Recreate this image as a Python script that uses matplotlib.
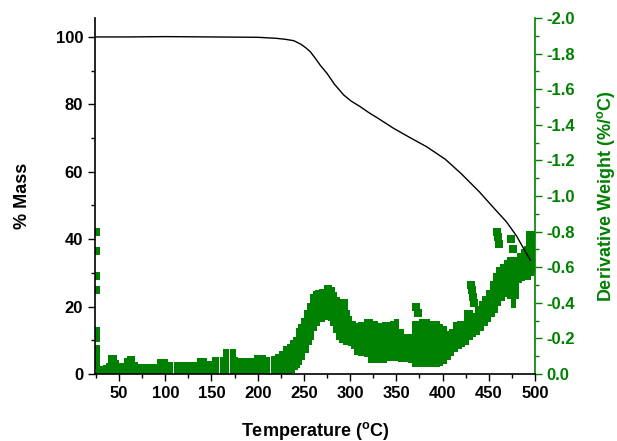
import matplotlib
matplotlib.use("Agg")
import matplotlib.pyplot as plt
import numpy as np
from matplotlib.ticker import MultipleLocator

plt.rcParams['font.family'] = 'Liberation Sans'
plt.rcParams['font.weight'] = 'bold'
plt.rcParams['axes.labelweight'] = 'bold'
plt.rcParams['mathtext.fontset'] = 'custom'
plt.rcParams['mathtext.rm'] = 'Liberation Sans:bold'
plt.rcParams['mathtext.it'] = 'Liberation Sans:bold'
plt.rcParams['mathtext.bf'] = 'Liberation Sans:bold'

GREEN = '#008000'

# TGA curve (% mass vs temperature)
mass_temp = [25, 60, 100, 150, 200, 220, 230, 239, 247, 252, 257, 262, 268, 275,
             283, 293, 301, 311, 320, 330, 347, 365, 383, 403, 420, 440, 455,
             469, 480, 487, 495]
mass_pct = [100.0, 100.0, 100.1, 100.0, 99.9, 99.6, 99.3, 98.9, 97.8, 96.8, 95.6,
            93.8, 91.5, 89.2, 86.0, 82.8, 81.0, 79.3, 77.6, 75.9, 72.9, 70.1,
            67.4, 63.7, 59.5, 54.0, 49.4, 45.2, 41.0, 37.6, 33.8]

# DTG band: temperature, lower and upper edge of the scattered points
dtg_temp = [27, 30, 35, 38, 41, 45, 48, 51, 55, 58, 61, 65, 68, 72, 80, 90, 94,
            100, 104, 115, 125, 134, 137, 142, 146, 151, 154, 163, 166, 173, 176,
            182, 190, 196, 199, 206, 210, 218, 222, 226, 230, 234, 238, 241, 244,
            246, 249, 253, 256, 259, 262, 265, 270, 275, 278, 281, 284, 287, 291,
            295, 298, 300, 304, 307, 312, 318, 322, 327, 332, 337, 341, 346, 350,
            355, 360, 366, 369, 373, 378, 383, 388, 394, 398, 402, 406, 410, 414,
            418, 422, 426, 430, 434, 438, 442, 446, 450, 454, 457, 461, 465, 469,
            473, 477, 480, 483, 487, 490, 493, 497, 499]
dtg_low = [0.0, 0.0, 0.0, 0.0, 0.0, 0.0, 0.0, 0.0, 0.0, 0.0, 0.0, 0.0, 0.0, 0.0,
           0.0, 0.0, 0.0, 0.0, 0.0, 0.0, 0.0, 0.0, 0.0, 0.0, 0.0, 0.0, 0.0, 0.0,
           0.0, 0.0, 0.0, 0.0, 0.0, 0.0, 0.0, 0.0, 0.0, 0.0, 0.0, 0.0, 0.0, 0.0,
           -0.004, -0.02, -0.035, -0.05, -0.08, -0.117, -0.16, -0.19, -0.24,
           -0.27, -0.29, -0.306, -0.30, -0.27, -0.23, -0.19, -0.175, -0.164,
           -0.16, -0.155, -0.14, -0.108, -0.10, -0.097, -0.06, -0.06, -0.06,
           -0.06, -0.075, -0.075, -0.075, -0.065, -0.065, -0.06, -0.04, -0.04,
           -0.04, -0.04, -0.04, -0.04, -0.045, -0.055, -0.08, -0.10, -0.125,
           -0.14, -0.15, -0.164, -0.19, -0.21, -0.22, -0.24, -0.27, -0.29, -0.32,
           -0.344, -0.38, -0.41, -0.43, -0.42, -0.37, -0.42, -0.51, -0.52, -0.53,
           -0.53, -0.55, -0.56]
dtg_high = [-0.045, -0.045, -0.05, -0.06, -0.108, -0.108, -0.08, -0.06, -0.06,
            -0.09, -0.10, -0.10, -0.07, -0.055, -0.057, -0.057, -0.083, -0.083,
            -0.068, -0.07, -0.068, -0.07, -0.09, -0.09, -0.075, -0.075, -0.098,
            -0.098, -0.14, -0.14, -0.095, -0.09, -0.09, -0.09, -0.105, -0.105,
            -0.098, -0.10, -0.113, -0.13, -0.155, -0.17, -0.19, -0.21, -0.26,
            -0.28, -0.315, -0.36, -0.40, -0.45, -0.466, -0.47, -0.476, -0.50,
            -0.50, -0.49, -0.46, -0.43, -0.42, -0.42, -0.36, -0.325, -0.30,
            -0.287, -0.29, -0.31, -0.31, -0.30, -0.287, -0.29, -0.29, -0.30,
            -0.31, -0.25, -0.226, -0.226, -0.30, -0.30, -0.31, -0.31, -0.30,
            -0.30, -0.28, -0.27, -0.24, -0.25, -0.29, -0.296, -0.30, -0.36,
            -0.36, -0.34, -0.38, -0.41, -0.44, -0.47, -0.52, -0.57, -0.60, -0.62,
            -0.64, -0.66, -0.66, -0.66, -0.68, -0.70, -0.72, -0.806, -0.806,
            -0.806]

# isolated points outside the band
out_temp = [25.5, 25.5, 25.5, 25.5, 25.5, 25.5, 25.5, 25.5, 25.5, 25.5,
            371, 373, 431, 432, 433, 434, 459, 460, 461, 474, 476]
out_dtg = [-0.80, -0.69, -0.55, -0.47, -0.24, -0.20, -0.14, -0.12, -0.08, -0.05,
           -0.378, -0.345, -0.50, -0.47, -0.43, -0.40, -0.80, -0.77, -0.73,
           -0.76, -0.70]

fig = plt.figure(figsize=(6.17, 4.41), dpi=100)
ax = fig.add_axes([0.154, 0.152, 0.713, 0.807])
ax2 = ax.twinx()

ax.plot(mass_temp, mass_pct, color='black', lw=1.0, zorder=3)
ax.set_zorder(ax2.get_zorder() + 1)
ax.patch.set_visible(False)

# band drawn as touching bars between the lower and upper edge
t = np.array(dtg_temp, dtype=float)
lo = np.array(dtg_low)
hi = np.array(dtg_high)
widths = np.gradient(t) + 1.5
ax2.bar(t, hi - lo, bottom=lo, width=widths, color=GREEN, lw=0,
        antialiased=False, align='center')
ax2.scatter(out_temp, out_dtg, marker='s', s=30, color=GREEN, lw=0)

ax.set_xlim(24, 500)
ax.set_ylim(0, 105.6)
ax2.set_ylim(0, -2.0)

ax.xaxis.set_major_locator(MultipleLocator(50))
ax.xaxis.set_minor_locator(MultipleLocator(25))
ax.yaxis.set_major_locator(MultipleLocator(20))
ax.yaxis.set_minor_locator(MultipleLocator(10))
ax2.yaxis.set_major_locator(MultipleLocator(0.2))
ax2.yaxis.set_minor_locator(MultipleLocator(0.1))
ax2.yaxis.set_major_formatter(plt.FuncFormatter(lambda v, p: f'{v:.1f}'.replace('-0.0', '0.0')))

ax.tick_params(which='major', direction='out', length=5, width=1, labelsize=12)
ax.tick_params(which='minor', direction='out', length=3, width=1)
ax2.tick_params(which='major', direction='out', length=5, width=1, labelsize=12,
                colors=GREEN)
ax2.tick_params(which='minor', direction='out', length=3, width=1, colors=GREEN)

for a in (ax, ax2):
    a.spines['top'].set_visible(False)
ax2.spines['right'].set_color(GREEN)
ax2.spines['right'].set_linewidth(1.2)
ax2.spines['left'].set_visible(False)
ax2.spines['bottom'].set_visible(False)
ax.spines['right'].set_visible(False)
ax.spines['left'].set_linewidth(1.2)
ax.spines['bottom'].set_linewidth(1.2)

ax.set_xlabel(r'Temperature ($^{\mathrm{o}}$C)', fontsize=13, labelpad=14)
ax.set_ylabel('% Mass', fontsize=13, labelpad=18)
ax2.set_ylabel(r'Derivative Weight (%/$^{\mathrm{o}}$C)', fontsize=13,
               color=GREEN, labelpad=14)

fig.savefig('out.png', dpi=100)
